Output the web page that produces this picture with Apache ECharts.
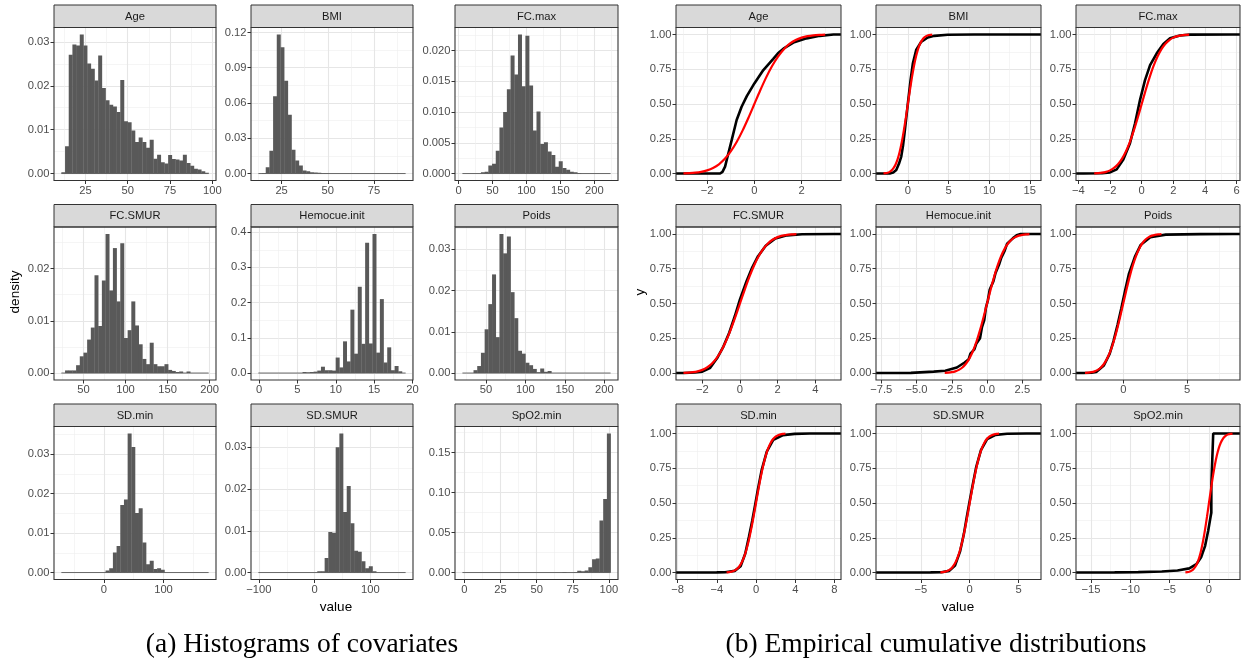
<!DOCTYPE html>
<html><head><meta charset="utf-8">
<script src="https://cdn.jsdelivr.net/npm/echarts@6/dist/echarts.min.js"></script>
<style>html,body{margin:0;padding:0;background:#fff}#c{width:1246px;height:664px}</style>
</head><body><div id="c"></div>
<script>
// ---------- DATA ----------
const panelNames = ['Age','BMI','FC.max','FC.SMUR','Hemocue.init','Poids','SD.min','SD.SMUR','SpO2.min'];

// histogram bins: [left edge of first bin, bin width]; densities per bin (40 bins)
const binAge = [10.8, 2.175];
const densAge = [0.0003,0.0062,0.0271,0.0294,0.0292,0.0317,0.0292,0.0251,0.0239,0.0212,0.0269,0.0195,0.0167,0.0157,0.0153,0.0140,0.0213,0.0119,0.0117,0.0098,0.0072,0.0082,0.0072,0.0059,0.0077,0.0034,0.0043,0.0026,0.0023,0.0042,0.0033,0.0032,0.0030,0.0043,0.0024,0.0018,0.0011,0.0009,0.0005,0.0002];
const binBMI = [12.4, 1.995];
const densBMI = [0,0.0005,0.0054,0.0193,0.0657,0.1183,0.1075,0.0790,0.0500,0.0202,0.0111,0.0068,0.0026,0.0020,0.0011,0.0009,0.0006,0.0003,0.0002,0.0001,0,0,0,0,0,0,0,0,0,0,0,0,0,0,0,0,0,0,0,0.0001];
const binFCmax = [5.6, 5.46];
const densFCmax = [0,0,0,0,0,0.0002,0.0003,0.0013,0.0016,0.0037,0.0075,0.0100,0.0137,0.0192,0.0161,0.0226,0.0142,0.0224,0.0143,0.0070,0.0101,0.0048,0.0051,0.0036,0.0030,0.0011,0.0020,0.0009,0.0006,0.0003,0.0002,0.0001,0,0,0,0,0,0,0,0];
const binFCSMUR = [23.8, 4.375];
const densFCSMUR = [0,0.0005,0.0005,0.0005,0.0015,0.0032,0.0039,0.0064,0.0087,0.0187,0.0090,0.0177,0.0266,0.0158,0.0239,0.0137,0.0248,0.0067,0.0082,0.0137,0.0091,0.0055,0.0027,0.0017,0.0058,0.0017,0.0013,0.0013,0.0017,0.0006,0.0004,0.0002,0.0003,0,0.0003,0,0,0,0,0];
const binHemo = [-0.09, 0.48];
const densHemo = [0,0,0,0,0,0,0,0,0,0,0,0,0.003,0.002,0.003,0.004,0.007,0.018,0.008,0.008,0.007,0.044,0.016,0.090,0.033,0.180,0.055,0.245,0.083,0.370,0.084,0.395,0.058,0.210,0.030,0.073,0.008,0.020,0.005,0];
const binPoids = [20.2, 4.69];
const densPoids = [0,0,0,0.0007,0.0017,0.0049,0.0106,0.0167,0.0239,0.0087,0.0337,0.0290,0.0331,0.0196,0.0133,0.0054,0.0047,0.0025,0.0019,0.0010,0.0002,0.0011,0.0003,0.0005,0,0,0,0,0,0,0,0,0,0,0,0,0,0,0,0];
const binSDmin = [-71.3, 6.175];
const densSDmin = [0,0,0,0,0,0,0,0,0,0,0,0,0.0005,0.0011,0.0051,0.0067,0.0171,0.0185,0.0352,0.0318,0.0151,0.0163,0.0076,0.0021,0.0030,0.0009,0.0011,0.0007,0,0,0,0,0,0,0,0,0,0,0,0];
const binSDSMUR = [-100.9, 6.6];
const densSDSMUR = [0,0,0,0,0,0,0,0,0,0,0,0,0,0,0,0,0.0003,0.0003,0.0035,0.0097,0.0095,0.0300,0.0333,0.0145,0.0207,0.0118,0.0052,0.0050,0.0027,0.0010,0.0015,0.0003,0,0,0,0,0,0,0,0];
const binSpO2 = [-1.4, 2.565];
const densSpO2 = [0,0,0,0,0,0,0,0,0,0,0,0,0,0,0,0,0,0,0,0,0,0,0,0,0,0,0,0.0008,0,0,0.0005,0.0022,0.0015,0.0025,0.0065,0.0165,0.0175,0.065,0.092,0.174];

// histogram tick labels
const hxAge = ['25','50','75','100'];           const hyAge = ['0.00','0.01','0.02','0.03'];
const hxBMI = ['25','50','75'];                 const hyBMI = ['0.00','0.03','0.06','0.09','0.12'];
const hxFCmax = ['0','50','100','150','200'];   const hyFCmax = ['0.000','0.005','0.010','0.015','0.020'];
const hxFCSMUR = ['50','100','150','200'];      const hyFCSMUR = ['0.00','0.01','0.02'];
const hxHemo = ['0','5','10','15','20'];        const hyHemo = ['0.0','0.1','0.2','0.3','0.4'];
const hxPoids = ['50','100','150','200'];       const hyPoids = ['0.00','0.01','0.02','0.03'];
const hxSDmin = ['0','100'];                    const hySDmin = ['0.00','0.01','0.02','0.03'];
const hxSDSMUR = ['\u2212100','0','100'];       const hySDSMUR = ['0.00','0.01','0.02','0.03'];
const hxSpO2 = ['0','25','50','75','100'];      const hySpO2 = ['0.00','0.05','0.10','0.15'];

// empirical cdf (black) of standardized covariates
const ecdfAge = [[-1.45,0],[-1.35,0.012],[-1.24,0.05],[-1.1,0.146],[-0.96,0.24],[-0.75,0.385],[-0.54,0.48],[-0.32,0.557],[0,0.648],[0.38,0.744],[0.8,0.825],[1.0,0.865],[1.23,0.898],[1.65,0.942],[2.21,0.972],[2.77,0.99],[3.35,1]];
const ecdfBMI = [[-2.24,0],[-1.8,0.008],[-1.43,0.026],[-1.1,0.07],[-0.815,0.122],[-0.6,0.2],[-0.41,0.29],[-0.2,0.4],[0,0.505],[0.33,0.672],[0.61,0.79],[1.02,0.888],[1.63,0.947],[2.45,0.978],[3.26,0.99],[4.9,0.998],[8.15,0.9995],[15.46,1]];
const ecdfFCmax = [[-3.68,0],[-2.5,0.002],[-2.0,0.008],[-1.58,0.03],[-1.16,0.1],[-0.74,0.218],[-0.42,0.361],[-0.105,0.53],[0.21,0.672],[0.53,0.78],[0.95,0.864],[1.37,0.932],[1.79,0.972],[2.42,0.993],[3.05,0.999],[5.74,1]];
const ecdfFCSMUR = [[-2.98,0],[-2.4,0.004],[-2.0,0.01],[-1.6,0.035],[-1.19,0.112],[-0.88,0.19],[-0.57,0.29],[-0.27,0.41],[0,0.53],[0.35,0.66],[0.655,0.76],[0.96,0.84],[1.37,0.915],[1.88,0.968],[2.5,0.99],[3.3,0.998],[4.97,1]];
const ecdfHemo = [[-7.34,0],[-5.4,0.001],[-3.78,0.01],[-2.96,0.017],[-2.14,0.04],[-1.59,0.076],[-1.3,0.1],[-1.18,0.14],[-0.9,0.17],[-0.77,0.21],[-0.5,0.25],[-0.36,0.33],[-0.2,0.38],[-0.08,0.47],[0.05,0.52],[0.19,0.6],[0.45,0.66],[0.6,0.72],[0.85,0.78],[1.01,0.83],[1.25,0.88],[1.42,0.93],[1.84,0.97],[2.1,0.99],[2.38,1],[3.29,1]];
const ecdfPoids = [[-3.12,0],[-2.5,0.002],[-2.12,0.008],[-1.52,0.055],[-1.06,0.14],[-0.76,0.232],[-0.45,0.345],[-0.15,0.465],[0.15,0.595],[0.45,0.715],[0.91,0.835],[1.36,0.92],[2.12,0.976],[3.33,0.995],[6.06,0.999],[8.57,1]];
const ecdfSDmin = [[-7.39,0],[-4,0.001],[-3.15,0.002],[-2.17,0.012],[-1.57,0.045],[-1.1,0.135],[-0.71,0.26],[-0.39,0.37],[-0.08,0.49],[0.2,0.6],[0.59,0.74],[1.1,0.87],[1.77,0.955],[2.76,0.988],[3.94,0.997],[5.5,1],[7.9,1]];
const ecdfSDSMUR = [[-8.81,0],[-4,0.001],[-2.89,0.002],[-2.09,0.012],[-1.5,0.05],[-0.99,0.15],[-0.59,0.28],[-0.32,0.39],[-0.04,0.5],[0.28,0.62],[0.67,0.76],[1.15,0.88],[1.78,0.96],[2.65,0.99],[3.83,0.998],[5.81,1],[6.52,1]];
const ecdfSpO2 = [[-15.97,0],[-12,0.001],[-9,0.003],[-6,0.008],[-4,0.015],[-2.5,0.03],[-1.6,0.06],[-1.0,0.11],[-0.5,0.19],[-0.1,0.3],[0.2,0.4],[0.3,0.43],[0.3,0.62],[0.54,0.62],[0.54,1]];

// red reference curve (standard normal cdf as drawn)
const normCdf = [[-3,0.0013],[-2.75,0.003],[-2.5,0.0062],[-2.25,0.0122],[-2,0.0228],[-1.75,0.0401],[-1.5,0.0668],[-1.25,0.1056],[-1,0.1587],[-0.75,0.2266],[-0.5,0.3085],[-0.25,0.4013],[0,0.5],[0.25,0.5987],[0.5,0.6915],[0.75,0.7734],[1,0.8413],[1.25,0.8944],[1.5,0.9332],[1.75,0.9599],[2,0.9772],[2.25,0.9878],[2.5,0.9938],[2.75,0.997],[3,0.9987]];

// ecdf tick labels
const exAge = ['\u22122','0','2'];
const exBMI = ['0','5','10','15'];
const exFCmax = ['\u22124','\u22122','0','2','4','6'];
const exFCSMUR = ['\u22122','0','2','4'];
const exHemo = ['\u22127.5','\u22125.0','\u22122.5','0.0','2.5'];
const exPoids = ['0','5'];
const exSDmin = ['\u22128','\u22124','0','4','8'];
const exSDSMUR = ['\u22125','0','5'];
const exSpO2 = ['\u221215','\u221210','\u22125','0'];
const eyAll = ['0.00','0.25','0.50','0.75','1.00'];

// ---------- LAYOUT ----------
const FONT = '"Liberation Sans", Arial, Helvetica, sans-serif';
const hLeft = [54, 251, 455], hWidth = [162, 162, 163];
const eLeft = [676, 876, 1076], eWidth = [165, 165, 164];
const stripTop = [5, 204.5, 404], stripH = 22.5, plotH = 153;

const histBin = [binAge, binBMI, binFCmax, binFCSMUR, binHemo, binPoids, binSDmin, binSDSMUR, binSpO2];
const histDens = [densAge, densBMI, densFCmax, densFCSMUR, densHemo, densPoids, densSDmin, densSDSMUR, densSpO2];
const histXL = [hxAge, hxBMI, hxFCmax, hxFCSMUR, hxHemo, hxPoids, hxSDmin, hxSDSMUR, hxSpO2];
const histYL = [hyAge, hyBMI, hyFCmax, hyFCSMUR, hyHemo, hyPoids, hySDmin, hySDSMUR, hySpO2];
const ecdfs = [ecdfAge, ecdfBMI, ecdfFCmax, ecdfFCSMUR, ecdfHemo, ecdfPoids, ecdfSDmin, ecdfSDSMUR, ecdfSpO2];
const ecdfXL = [exAge, exBMI, exFCmax, exFCSMUR, exHemo, exPoids, exSDmin, exSDSMUR, exSpO2];

const num = s => parseFloat(String(s).replace('\u2212', '-'));
function minorVals(v, lo, hi) {
  const st = v[1] - v[0], out = [];
  for (let k = -1; k < v.length; k++) { const m = v[0] + (k + 0.5) * st; if (m > lo && m < hi) out.push(m); }
  return out;
}
function fmt(vals, labels, span) {
  return function (v) {
    for (let k = 0; k < vals.length; k++) if (Math.abs(vals[k] - v) < span * 1e-6) return labels[k];
    return '';
  };
}

const grids = [], xAxes = [], yAxes = [], series = [], graphics = [];
const labelStyle = { color: '#4D4D4D', fontSize: 11.2, fontFamily: FONT };
const MAJOR = { color: '#E6E6E6', width: 1.1 };
const MINOR = { color: '#EFEFEF', width: 0.6 };

function addPanel(i, left, width, row, name, xr, yr, xl, yl) {
  const top = stripTop[row] + stripH;
  grids.push({ left: left, top: top, width: width, height: plotH, show: false, containLabel: false, outerBoundsMode: 'none' });
  const xv = xl.map(num), yv = yl.map(num);
  const xs = xr[1] - xr[0], ys = yr[1] - yr[0];
  xAxes.push({
    type: 'value', gridIndex: i, min: xr[0], max: xr[1], position: 'bottom',
    axisLine: { show: false, onZero: false },
    axisTick: { show: true, length: 3.5, customValues: xv, lineStyle: { color: '#333333', width: 1 } },
    axisLabel: Object.assign({ show: true, customValues: xv, margin: 4.5, formatter: fmt(xv, xl, xs), hideOverlap: false }, labelStyle),
    splitLine: { show: true, lineStyle: MAJOR },
    minorTick: { show: false }, minorSplitLine: { show: false }
  });
  xAxes.push({
    type: 'value', gridIndex: i, min: xr[0], max: xr[1], position: 'top',
    axisLine: { show: false, onZero: false }, axisLabel: { show: false },
    axisTick: { show: false, customValues: minorVals(xv, xr[0], xr[1]) },
    splitLine: { show: true, lineStyle: MINOR }
  });
  yAxes.push({
    type: 'value', gridIndex: i, min: yr[0], max: yr[1], position: 'left',
    axisLine: { show: false, onZero: false },
    axisTick: { show: true, length: 3.5, customValues: yv, lineStyle: { color: '#333333', width: 1 } },
    axisLabel: Object.assign({ show: true, customValues: yv, margin: 4.5, formatter: fmt(yv, yl, ys), hideOverlap: false }, labelStyle),
    splitLine: { show: true, lineStyle: MAJOR },
    minorTick: { show: false }, minorSplitLine: { show: false }
  });
  yAxes.push({
    type: 'value', gridIndex: i, min: yr[0], max: yr[1], position: 'right',
    axisLine: { show: false, onZero: false }, axisLabel: { show: false },
    axisTick: { show: false, customValues: minorVals(yv, yr[0], yr[1]) },
    splitLine: { show: true, lineStyle: MINOR }
  });
  // strip
  graphics.push({ type: 'rect', z: 50, shape: { x: left, y: stripTop[row], width: width, height: stripH },
    style: { fill: '#D9D9D9', stroke: '#333333', lineWidth: 1 } });
  graphics.push({ type: 'text', z: 51, x: left + width / 2, y: stripTop[row] + stripH / 2 + 0.5,
    style: { text: name, fill: '#1A1A1A', font: '11.2px ' + FONT, align: 'center', verticalAlign: 'middle', textAlign: 'center', textVerticalAlign: 'middle' } });
  // panel border
  graphics.push({ type: 'rect', z: 50, shape: { x: left, y: top, width: width, height: plotH },
    style: { fill: 'none', stroke: '#333333', lineWidth: 1.1 } });
}

// histograms
for (let p = 0; p < 9; p++) {
  const row = Math.floor(p / 3), col = p % 3;
  const b = histBin[p], d = histDens[p], n = d.length;
  const x0 = b[0], x1 = b[0] + n * b[1];
  const pad = 0.05 * (x1 - x0);
  const hmax = Math.max.apply(null, d);
  const xr = [x0 - pad, x1 + pad], yr = [-0.05 * hmax, 1.05 * hmax];
  addPanel(p, hLeft[col], hWidth[col], row, panelNames[p], xr, yr, histXL[p], histYL[p]);
  const bars = [];
  d.forEach((h, k) => { if (h > 0) bars.push([b[0] + k * b[1], b[0] + (k + 1) * b[1], h]); });
  series.push({ type: 'line', xAxisIndex: 2 * p, yAxisIndex: 2 * p, data: [[x0, 0], [x1, 0]], symbol: 'none', silent: true,
    lineStyle: { color: '#595959', width: 0.9 }, z: 2 });
  series.push({
    type: 'custom', xAxisIndex: 2 * p, yAxisIndex: 2 * p, data: bars, encode: { x: [0, 1], y: 2 }, clip: true, silent: true, z: 3,
    renderItem: function (params, api) {
      const a = api.coord([api.value(0), api.value(2)]);
      const c = api.coord([api.value(1), 0]);
      return { type: 'rect', shape: { x: a[0], y: a[1], width: c[0] - a[0] + 0.3, height: c[1] - a[1] }, style: { fill: '#595959' } };
    }
  });
}

// ecdfs
for (let p = 0; p < 9; p++) {
  const i = 9 + p;
  const row = Math.floor(p / 3), col = p % 3;
  const e = ecdfs[p];
  const xsAll = e.map(q => q[0]).concat(normCdf.map(q => q[0]));
  const lo = Math.min.apply(null, xsAll), hi = Math.max.apply(null, xsAll);
  const pad = 0.05 * (hi - lo);
  const xr = [lo - pad, hi + pad], yr = [-0.05, 1.05];
  addPanel(i, eLeft[col], eWidth[col], row, panelNames[p], xr, yr, ecdfXL[p], eyAll);
  series.push({ type: 'line', xAxisIndex: 2 * i, yAxisIndex: 2 * i, data: [[xr[0], 0]].concat(e, [[xr[1], 1]]),
    symbol: 'none', silent: true, lineStyle: { color: '#000000', width: 2.6 }, z: 3 });
  series.push({ type: 'line', xAxisIndex: 2 * i, yAxisIndex: 2 * i, data: normCdf, smooth: 0.3,
    symbol: 'none', silent: true, lineStyle: { color: '#FF0000', width: 2.2 }, z: 4 });
}

// axis titles and captions
function txt(t, x, y, size, rot, fam) {
  graphics.push({ type: 'text', z: 60, x: x, y: y, rotation: rot || 0,
    style: { text: t, fill: '#000000', font: size + 'px ' + (fam || FONT), align: 'center', verticalAlign: 'middle', textAlign: 'center', textVerticalAlign: 'middle' } });
}
txt('density', 15, 292, 13.5, Math.PI / 2);
txt('value', 336, 607, 13.5);
txt('y', 640, 292, 13.5, Math.PI / 2);
txt('value', 958, 607, 13.5);
const SERIF = '"Liberation Serif", "DejaVu Serif", serif';
txt('(a) Histograms of covariates', 302, 645, 27.5, 0, SERIF);
txt('(b) Empirical cumulative distributions', 936, 645, 27.5, 0, SERIF);

const chart = echarts.init(document.getElementById('c'), null, { renderer: 'canvas' });
chart.setOption({
  animation: false,
  backgroundColor: '#ffffff',
  grid: grids, xAxis: xAxes, yAxis: yAxes, series: series,
  graphic: { elements: graphics }
});
</script></body></html>
